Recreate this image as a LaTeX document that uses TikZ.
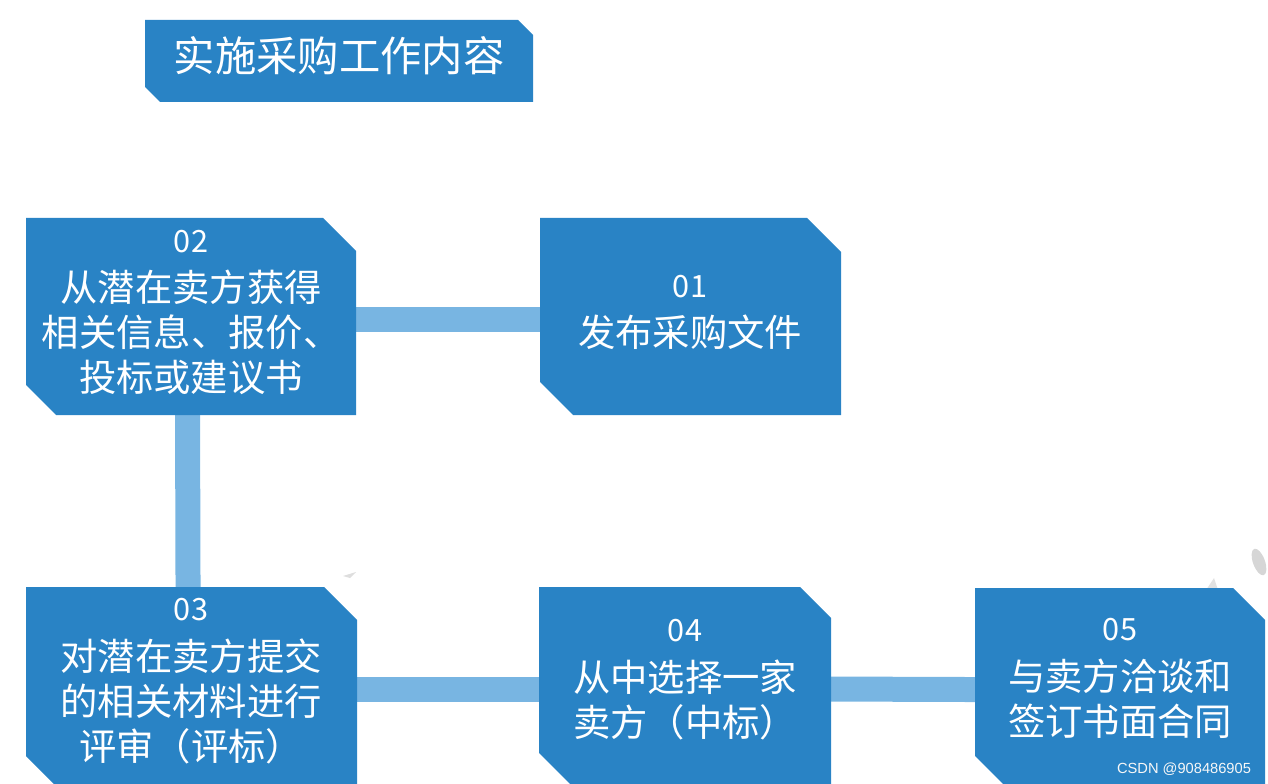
\documentclass[tikz,border=0pt]{standalone}
\usepackage{fontspec}
\newfontfamily\cjk{Noto Sans CJK SC}
\newfontfamily\wmfont{Liberation Sans}
\usetikzlibrary{fit}
\definecolor{boxblue}{RGB}{41,131,197}
\definecolor{barblue}{RGB}{120,181,226}
\definecolor{leafgray}{RGB}{214,214,214}
\tikzset{
  frame/.style={inner sep=0pt, outer sep=0pt, draw=none},
  conn/.style={draw=barblue, line width=18.75pt},
  numtext/.style={text=white, font=\cjk\fontsize{23}{26}\selectfont},
  bodytext/.style={text=white, align=center, font=\cjk\fontsize{28}{33.75}\selectfont},
  titletext/.style={text=white, font=\cjk\fontsize{31}{36}\selectfont},
}
% x1 y1 x2 y2 cut-top-right cut-bottom-left
\newcommand{\cutshape}[6]{%
  \fill[boxblue] (#1,#2) -- ({#3-#5},#2) -- (#3,{#2+#5}) -- (#3,#4) -- ({#1+#6},#4) -- (#1,{#4-#6}) -- cycle;}
\begin{document}
\begin{tikzpicture}[x=0.75pt,y=-0.75pt]
\useasboundingbox (0,0) rectangle (1268,784);
\clip (0,0) rectangle (1268,784);

% frames (named, invisible) for the boxes
\node[frame, fit={(145,20)(533,102)}] (title) {};
\node[frame, fit={(26,218)(356,415)}] (b2) {};
\node[frame, fit={(540,218)(841,415)}] (b1) {};
\node[frame, fit={(26,587)(357,786)}] (b3) {};
\node[frame, fit={(539,587)(831,786)}] (b4) {};
\node[frame, fit={(975,588)(1265,786)}] (b5) {};

% connectors
\draw[conn] ([yshift=-2.25pt]b2.east) -- ([yshift=-2.25pt]b1.west);
\draw[conn] ([xshift=-2.6pt]b2.south) -- ([xshift=-2.6pt]b3.north);
\draw[conn] ([yshift=-1.9pt]b3.east) -- ([yshift=-1.9pt]b4.west);
\draw[conn] ([yshift=-1.9pt]b4.east) -- ([yshift=-1.9pt]b5.west);

% faint gray marks
\fill[leafgray, rotate around={20:(1259,562)}] (1259,562) ellipse (6 and 14);
\fill[leafgray!70] (1206,590) -- (1214,578) -- (1218,590) -- cycle;
\fill[leafgray!80] (343,576) -- (356,572) -- (350,578) -- cycle;

% boxes
\cutshape{145}{20}{533}{102}{15}{15}
\cutshape{26}{218}{356}{415}{33}{30}
\cutshape{540}{218}{841}{415}{34}{33}
\cutshape{26}{587}{357}{786}{33}{30}
\cutshape{539}{587}{831}{786}{31}{33}
\cutshape{975}{588}{1265}{786}{32}{30}

% texts
\node[titletext] (tt) at (339,56) {实施采购工作内容};

\node[numtext] (n2) at (191,241.5) {02};
\node[bodytext] (t2) at (191,332) {从潜在卖方获得\\相关信息、报价、\\投标或建议书};

\node[numtext] (n1) at (690,287) {01};
\node[bodytext] (t1) at (690,332) {发布采购文件};

\node[numtext] (n3) at (191,610) {03};
\node[bodytext] (t3) at (191,701) {对潜在卖方提交\\的相关材料进行\\评审（评标）};

\node[numtext] (n4) at (685,630.5) {04};
\node[bodytext] (t4) at (685,700) {从中选择一家\\卖方（中标）};

\node[numtext] (n5) at (1120,630) {05};
\node[bodytext] (t5) at (1120,699) {与卖方洽谈和\\签订书面合同};

\node[text=white!94!gray, font=\wmfont\fontsize{11}{13}\selectfont] (wm) at (1184,769) {CSDN @908486905};
\end{tikzpicture}
\end{document}
